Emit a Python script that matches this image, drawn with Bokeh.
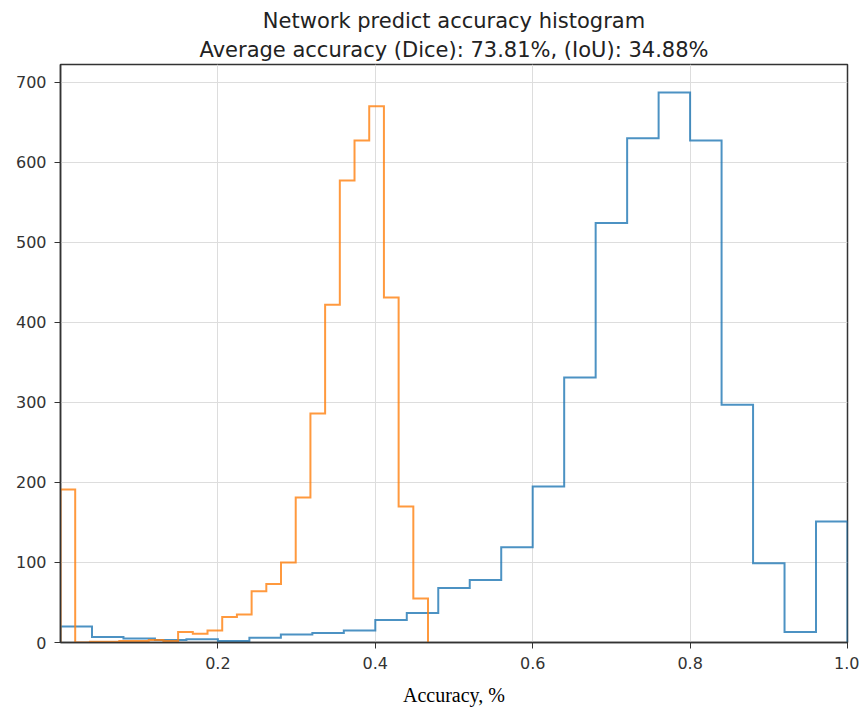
import numpy as np
from bokeh.plotting import figure
from bokeh.models import Range1d, FixedTicker, Title, NumeralTickFormatter
from bokeh.embed import file_html
from bokeh.resources import INLINE

# ---- data ----
dice_range = (0.0, 1.0)
dice_counts = [20, 7, 5, 3, 4, 2, 6, 10, 12, 15, 28, 37, 68, 78, 119,
               195, 331, 524, 630, 687, 627, 297, 99, 13, 151]

iou_range = (0.0, 0.467)
iou_counts = [191, 0, 1, 1, 2, 2, 3, 2, 13, 11, 15, 32, 35, 64, 73,
              100, 181, 286, 422, 577, 627, 670, 431, 170, 55]

x_ticks = [0.2, 0.4, 0.6, 0.8, 1.0]
y_ticks = [0, 100, 200, 300, 400, 500, 600, 700]

title_line1 = "Network predict accuracy histogram"
title_line2 = "Average accuracy (Dice): 73.81%, (IoU): 34.88%"
x_label = "Accuracy, %"


def step_outline(rng, counts):
    counts = np.asarray(counts, dtype=float)
    edges = np.linspace(rng[0], rng[1], len(counts) + 1)
    xs = np.repeat(edges, 2)
    ys = np.concatenate([[0.0], np.repeat(counts, 2), [0.0]])
    return xs, ys


p = figure(width=859, height=711, output_backend="svg", toolbar_location=None,
           x_range=Range1d(0, 1.0), y_range=Range1d(0, 722),
           min_border_left=60, min_border_right=12, min_border_top=64,
           min_border_bottom=69)

p.background_fill_color = "white"
p.border_fill_color = "white"
p.outline_line_color = "#333333"
p.outline_line_width = 1.5

title_font = "DejaVu Sans"
p.add_layout(Title(text=title_line2, align="center", text_font=title_font,
                   text_font_size="21px", text_font_style="normal",
                   text_color="#222222", standoff=6), "above")
p.add_layout(Title(text=title_line1, align="center", text_font=title_font,
                   text_font_size="21px", text_font_style="normal",
                   text_color="#222222", standoff=0), "above")

xs, ys = step_outline(dice_range, dice_counts)
p.line(xs, ys, line_color="#1f77b4", line_width=2, line_alpha=0.8, line_join="miter")
xs, ys = step_outline(iou_range, iou_counts)
p.line(xs, ys, line_color="#ff7f0e", line_width=2, line_alpha=0.8, line_join="miter")

p.xaxis.ticker = FixedTicker(ticks=x_ticks)
p.yaxis.ticker = FixedTicker(ticks=y_ticks)
p.xaxis.formatter = NumeralTickFormatter(format="0.0")
p.xaxis.minor_tick_line_color = None
p.yaxis.minor_tick_line_color = None
for ax in (p.xaxis, p.yaxis):
    ax.major_tick_out = 6
    ax.major_tick_in = 0
    ax.major_tick_line_color = "#333333"
    ax.axis_line_color = "#333333"
    ax.axis_line_width = 1.5
    ax.major_label_text_font = "DejaVu Sans"
    ax.major_label_text_font_size = "16px"
    ax.major_label_text_color = "#333333"
    ax.major_label_standoff = 8

p.xaxis.axis_label = x_label
p.xaxis.axis_label_text_font = "Liberation Serif"
p.xaxis.axis_label_text_font_size = "20px"
p.xaxis.axis_label_text_font_style = "normal"
p.xaxis.axis_label_text_color = "#000000"
p.xaxis.axis_label_standoff = 12

p.xgrid.grid_line_color = "#dddddd"
p.ygrid.grid_line_color = "#dddddd"
p.xgrid.grid_line_width = 1
p.ygrid.grid_line_width = 1

open("out.html", "w").write(file_html(p, INLINE))
